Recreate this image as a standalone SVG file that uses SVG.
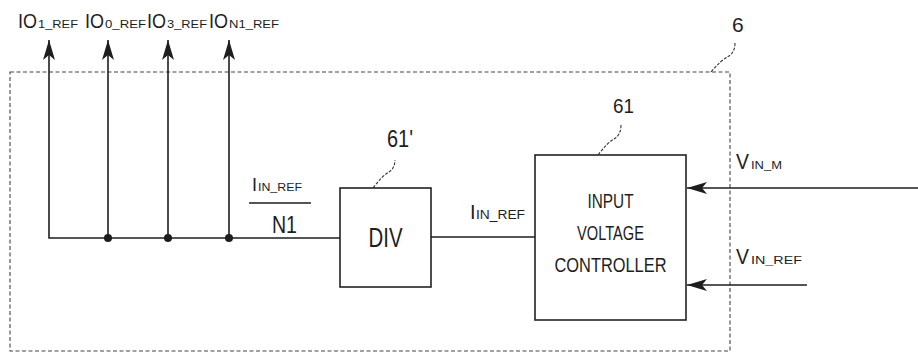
<svg xmlns="http://www.w3.org/2000/svg" width="918" height="354" viewBox="0 0 918 354">
  <style>
    .t { font-family: "Liberation Sans", Arial, sans-serif; fill: #1e1e1e; }
    .box { fill: none; stroke: #222; stroke-width: 1.6; }
    .outer { fill: none; stroke: #444; stroke-width: 1.1; stroke-dasharray: 4 2.5; }
    .wire { fill: none; stroke: #1e1e1e; stroke-width: 1.6; }
    .lead { fill: none; stroke: #333; stroke-width: 1.1; stroke-dasharray: 3 1.5; }
    .dot { fill: #1e1e1e; }
  </style>
  <defs>
    <marker id="arr" viewBox="0 0 20 12" markerWidth="20" markerHeight="12" refX="20" refY="6" orient="auto" markerUnits="userSpaceOnUse">
      <path d="M0,0 L20,6 L0,12 L5,6 Z" fill="#1e1e1e"/>
    </marker>
  </defs>
  <rect width="918" height="354" fill="#ffffff"/>

  <!-- Block 6 (outer dashed boundary) -->
  <g id="node-6">
    <rect class="outer" x="10" y="72" width="720" height="279"/>
    <path class="lead" d="M711,72 Q721,60 729,56 Q735,52 735,43"/>
    <text class="t" x="732" y="32" font-size="21">6</text>
  </g>

  <!-- Block 61' : DIV -->
  <g id="node-61p">
    <rect class="box" x="340" y="188" width="91" height="99"/>
    <text class="t" x="385.5" y="247" font-size="27" text-anchor="middle" textLength="34" lengthAdjust="spacingAndGlyphs">DIV</text>
    <path class="lead" d="M373,188 Q382,176 389,172 Q395,168 395,160"/>
    <text class="t" x="387" y="147" font-size="23" textLength="26" lengthAdjust="spacingAndGlyphs">61'</text>
  </g>

  <!-- Block 61 : INPUT VOLTAGE CONTROLLER -->
  <g id="node-61">
    <rect class="box" x="535" y="155" width="151" height="165"/>
    <text class="t" x="610.5" y="208" font-size="21" text-anchor="middle" textLength="46" lengthAdjust="spacingAndGlyphs">INPUT</text>
    <text class="t" x="610.5" y="240" font-size="21" text-anchor="middle" textLength="67" lengthAdjust="spacingAndGlyphs">VOLTAGE</text>
    <text class="t" x="610.5" y="272" font-size="21" text-anchor="middle" textLength="112" lengthAdjust="spacingAndGlyphs">CONTROLLER</text>
    <path class="lead" d="M598,155 Q607,143 614,139 Q621,135 621,125"/>
    <text class="t" x="613" y="113" font-size="21" textLength="21" lengthAdjust="spacingAndGlyphs">61</text>
  </g>

  <!-- Connectors -->
  <g id="connectors">
    <path class="wire" d="M340,238 H49 V40" marker-end="url(#arr)"/>
    <path class="wire" d="M108,238 V40" marker-end="url(#arr)"/>
    <path class="wire" d="M168,238 V40" marker-end="url(#arr)"/>
    <path class="wire" d="M229,238 V40" marker-end="url(#arr)"/>
    <circle class="dot" cx="108" cy="238" r="4"/>
    <circle class="dot" cx="168" cy="238" r="4"/>
    <circle class="dot" cx="229" cy="238" r="4"/>
    <path class="wire" d="M431,237 H535"/>
    <path class="wire" d="M918,188 H687" marker-end="url(#arr)"/>
    <path class="wire" d="M807,285 H687" marker-end="url(#arr)"/>
  </g>

  <!-- Output labels -->
  <g id="labels-out">
    <text class="t" x="18" y="28" font-size="20" textLength="19" lengthAdjust="spacingAndGlyphs">IO</text>
    <text class="t" x="38" y="28" font-size="11" textLength="40" lengthAdjust="spacingAndGlyphs">1_REF</text>
    <text class="t" x="85" y="28" font-size="20" textLength="19" lengthAdjust="spacingAndGlyphs">IO</text>
    <text class="t" x="105" y="28" font-size="11" textLength="41" lengthAdjust="spacingAndGlyphs">0_REF</text>
    <text class="t" x="147" y="28" font-size="20" textLength="19" lengthAdjust="spacingAndGlyphs">IO</text>
    <text class="t" x="167" y="28" font-size="11" textLength="40" lengthAdjust="spacingAndGlyphs">3_REF</text>
    <text class="t" x="209" y="28" font-size="20" textLength="19" lengthAdjust="spacingAndGlyphs">IO</text>
    <text class="t" x="229" y="28" font-size="11" textLength="50" lengthAdjust="spacingAndGlyphs">N1_REF</text>
  </g>

  <!-- Fraction label I_IN_REF / N1 -->
  <g id="label-fraction">
    <text class="t" x="252" y="191" font-size="18">I</text>
    <text class="t" x="258" y="191" font-size="11" textLength="44" lengthAdjust="spacingAndGlyphs">IN_REF</text>
    <line x1="249" y1="203" x2="311" y2="203" stroke="#1e1e1e" stroke-width="1.6"/>
    <text class="t" x="272" y="233" font-size="24" textLength="25" lengthAdjust="spacingAndGlyphs">N1</text>
  </g>

  <!-- I_IN_REF label -->
  <g id="label-iinref">
    <text class="t" x="470" y="219" font-size="20">I</text>
    <text class="t" x="476" y="219" font-size="12" textLength="49" lengthAdjust="spacingAndGlyphs">IN_REF</text>
  </g>

  <!-- Input labels -->
  <g id="labels-in">
    <text class="t" x="736" y="169" font-size="22" textLength="13" lengthAdjust="spacingAndGlyphs">V</text>
    <text class="t" x="751" y="169" font-size="11" textLength="31" lengthAdjust="spacingAndGlyphs">IN_M</text>
    <text class="t" x="736" y="264" font-size="22" textLength="13" lengthAdjust="spacingAndGlyphs">V</text>
    <text class="t" x="751" y="264" font-size="11" textLength="51" lengthAdjust="spacingAndGlyphs">IN_REF</text>
  </g>
</svg>
